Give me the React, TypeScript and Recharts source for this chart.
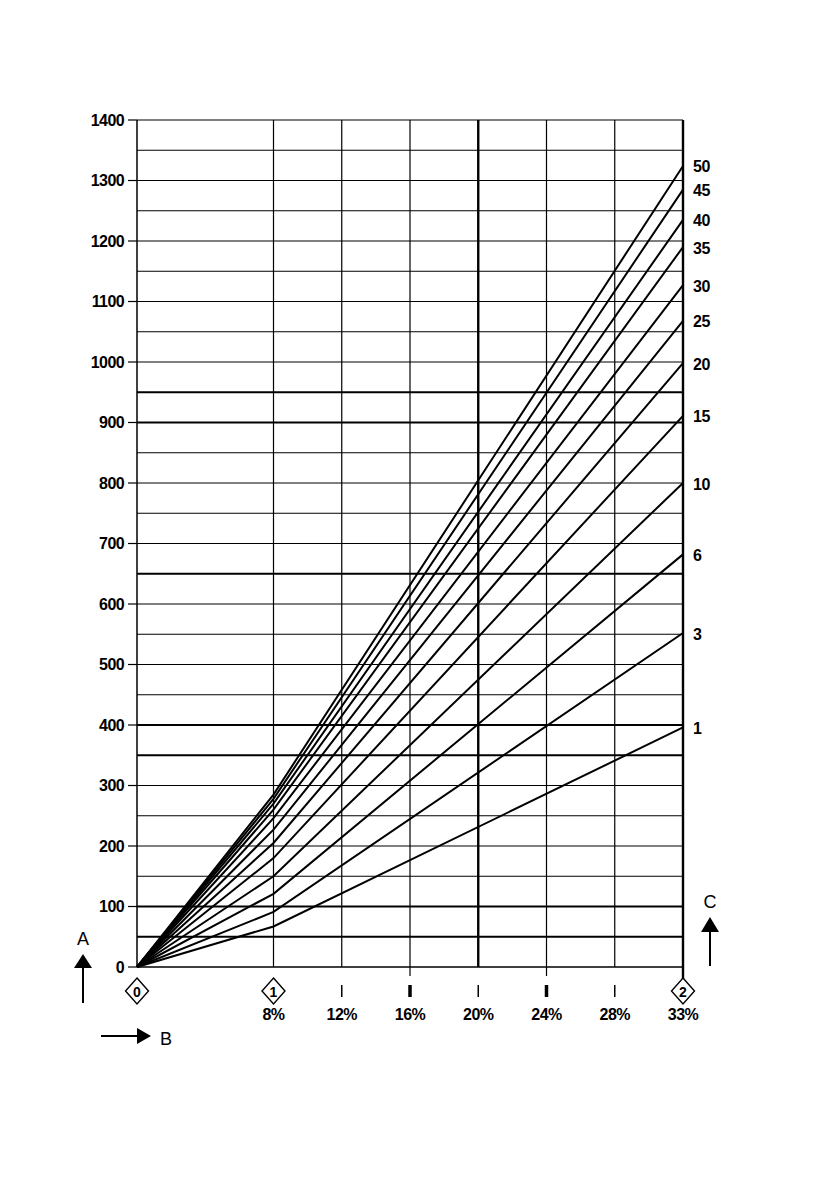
import React from 'react';
import { LineChart, Line, XAxis, YAxis, ReferenceLine } from 'recharts';

// curve names shown at the right end
const SERIES = ['1', '3', '6', '10', '15', '20', '25', '30', '35', '40', '45', '50'];
// x positions: 0 = origin, 2 = 8%, 8 = 33%
const X_POINTS = [0, 2, 8];
const VALUES_AT_0 = [0, 0, 0, 0, 0, 0, 0, 0, 0, 0, 0, 0];
const VALUES_AT_8 = [67, 91, 121, 150, 180, 205, 227, 246, 260, 270, 278, 285];
const VALUES_AT_33 = [396, 552, 682, 800, 911, 998, 1068, 1127, 1190, 1235, 1285, 1324];

const Y_TICKS = [0, 100, 200, 300, 400, 500, 600, 700, 800, 900, 1000, 1100, 1200, 1300, 1400];
const GRID_Y = [
  50, 100, 150, 200, 250, 300, 350, 400, 450, 500, 550, 600, 650, 700,
  750, 800, 850, 900, 950, 1000, 1050, 1100, 1150, 1200, 1250, 1300, 1350, 1400,
];
const THICK_Y = [50, 100, 350, 400, 650, 900, 950];

const X_TICKS = [0, 2, 3, 4, 5, 6, 7, 8];
const X_LABELS = ['', '8%', '12%', '16%', '20%', '24%', '28%', '33%'];
const X_MARKERS = ['0', '1', '', '', '', '', '', '2'];
const X_BOLD_TICKS = [4, 6];
const GRID_X = [2, 3, 4, 5, 6, 7, 8];
const THICK_X = [5, 8];

const FONT = '"Liberation Sans", Arial, sans-serif';

const data = X_POINTS.map((x, i) => {
  const src = i === 0 ? VALUES_AT_0 : i === 1 ? VALUES_AT_8 : VALUES_AT_33;
  const row: any = { x };
  SERIES.forEach((s, j) => { row['s' + s] = src[j]; });
  return row;
});

const XTick = (props: any) => {
  const { x, y, payload } = props;
  const i = X_TICKS.indexOf(payload.value);
  const marker = X_MARKERS[i];
  const label = X_LABELS[i];
  const bold = X_BOLD_TICKS.includes(payload.value);
  return (
    <g>
      {(bold || payload.value === 8) && (
        <line x1={x} x2={x} y1={y} y2={y + (payload.value === 8 ? 12 : 9)} stroke="#000" strokeWidth={bold ? 1.2 : 2.4} />
      )}
      {marker ? (
        <g>
          <polygon
            points={`${x},${y + 11} ${x + 11.5},${y + 24} ${x},${y + 37} ${x - 11.5},${y + 24}`}
            fill="#fff"
            stroke="#000"
            strokeWidth={1.4}
          />
          <text x={x} y={y + 25} textAnchor="middle" dominantBaseline="central" fontFamily={FONT} fontWeight="bold" fontSize={14} fill="#000">
            {marker}
          </text>
        </g>
      ) : (
        <line x1={x} x2={x} y1={y + 18} y2={y + 30} stroke="#000" strokeWidth={bold ? 3.5 : 1.5} />
      )}
      {label && (
        <text x={x} y={y + 47} textAnchor="middle" dominantBaseline="central" fontFamily={FONT} fontWeight="bold" fontSize={16} letterSpacing={-0.5} fill="#000">
          {label}
        </text>
      )}
    </g>
  );
};

const endLabel = (name: string) => (props: any) => {
  const { x, y, index } = props;
  if (index !== X_POINTS.length - 1) return null;
  return (
    <text key={name} x={x + 10} y={y + 1} dominantBaseline="central" fontFamily={FONT} fontWeight="bold" fontSize={16} letterSpacing={-0.5} fill="#000">
      {name}
    </text>
  );
};

export default function App() {
  return (
    <div style={{ position: 'absolute', left: 0, top: 0, width: 839, height: 1191, background: '#fff' }}>
      <LineChart width={839} height={1191} data={data} margin={{ top: 120, right: 156, left: 87, bottom: 164 }}>
        {GRID_Y.map(v => (
          <ReferenceLine key={'h' + v} y={v} stroke="#000" strokeWidth={THICK_Y.includes(v) ? 2.2 : 1.2} />
        ))}
        {GRID_X.map(v => (
          <ReferenceLine key={'v' + v} x={v} stroke="#000" strokeWidth={THICK_X.includes(v) ? 2.4 : 1.2} />
        ))}
        <XAxis
          dataKey="x"
          type="number"
          domain={[0, 8]}
          ticks={X_TICKS}
          interval={0}
          height={60}
          tickSize={0}
          tickMargin={0}
          tickLine={false}
          axisLine={{ stroke: '#000', strokeWidth: 1.5 }}
          tick={<XTick />}
        />
        <YAxis
          type="number"
          domain={[0, 1400]}
          ticks={Y_TICKS}
          interval={0}
          width={50}
          tickSize={9}
          tickMargin={4}
          axisLine={{ stroke: '#000', strokeWidth: 1.5 }}
          tickLine={{ stroke: '#000', strokeWidth: 1.2 }}
          tick={{ fill: '#000', fontFamily: FONT, fontWeight: 'bold', fontSize: 16, letterSpacing: -0.6 }}
        />
        {SERIES.map(s => (
          <Line
            key={s}
            type="linear"
            dataKey={'s' + s}
            stroke="#000"
            strokeWidth={2}
            dot={false}
            activeDot={false}
            label={endLabel(s)}
            isAnimationActive={false}
          />
        ))}
      </LineChart>
      <svg width={839} height={1191} style={{ position: 'absolute', left: 0, top: 0, pointerEvents: 'none' }}>
        {/* A arrow */}
        <text x={83} y={939} textAnchor="middle" dominantBaseline="central" fontFamily={FONT} fontSize={18} fill="#000">A</text>
        <polygon points="83,954 74,968 92,968" fill="#000" />
        <line x1={83} x2={83} y1={966} y2={1003} stroke="#000" strokeWidth={2} />
        {/* B arrow */}
        <line x1={101} x2={139} y1={1036} y2={1036} stroke="#000" strokeWidth={2} />
        <polygon points="151,1036 137,1028 137,1044" fill="#000" />
        <text x={160} y={1039} dominantBaseline="central" fontFamily={FONT} fontSize={18} fill="#000">B</text>
        {/* C arrow */}
        <text x={710} y={902} textAnchor="middle" dominantBaseline="central" fontFamily={FONT} fontSize={18} fill="#000">C</text>
        <polygon points="710,917 701,932 719,932" fill="#000" />
        <line x1={710} x2={710} y1={930} y2={966} stroke="#000" strokeWidth={2} />
      </svg>
    </div>
  );
}
